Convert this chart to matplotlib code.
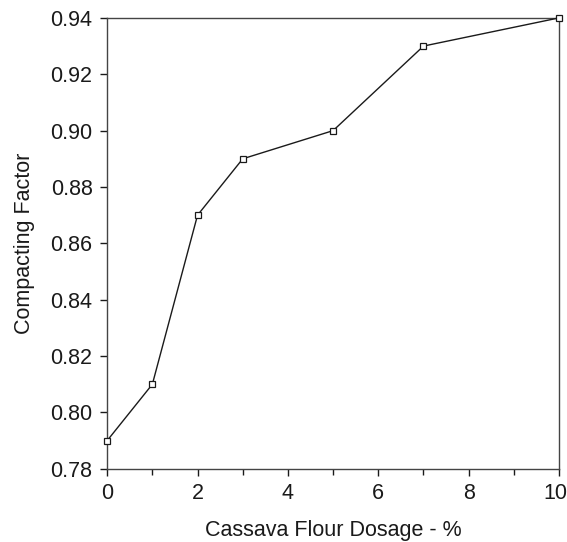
import matplotlib.pyplot as plt
from matplotlib.ticker import MultipleLocator
from matplotlib.transforms import ScaledTranslation

plt.rcParams['font.family'] = ['Liberation Sans', 'DejaVu Sans']

# Compacting factor vs cassava flour dosage
dosage = [0, 1, 2, 3, 5, 7, 10]
compacting = [0.79, 0.81, 0.87, 0.89, 0.90, 0.93, 0.94]
x_ticks = [0, 2, 4, 6, 8, 10]

fig = plt.figure(figsize=(5.67, 5.42), dpi=100)
ax = fig.add_axes([0.189, 0.135, 0.797, 0.832])

ax.plot(dosage, compacting, color='#1a1a1a', lw=1.0, marker='s', ms=4,
        mfc='white', mec='#1a1a1a', mew=0.9, clip_on=False, zorder=3)

ax.set_xlim(0, 10)
ax.set_ylim(0.78, 0.94)
ax.set_xticks(x_ticks)
ax.xaxis.set_minor_locator(MultipleLocator(1))
ax.yaxis.set_major_locator(MultipleLocator(0.02))
ax.yaxis.set_major_formatter(plt.FormatStrFormatter('%.2f'))

ax.tick_params(axis='both', which='major', direction='out', length=5, width=1,
               labelsize=15.5, colors='#1a1a1a')
ax.tick_params(axis='x', which='minor', direction='out', length=4, width=1, colors='#1a1a1a')
ax.tick_params(axis='x', pad=5)
ax.tick_params(axis='y', pad=5.5)

for s in ax.spines.values():
    s.set_color('#444444')
    s.set_linewidth(1.0)

ax.set_xlabel('Cassava Flour Dosage - %', fontsize=15.5, labelpad=12, color='#1a1a1a')
ax.set_ylabel('Compacting Factor', fontsize=15.5, labelpad=11, color='#1a1a1a')

# the last x label sits just inside the right edge
last = ax.xaxis.get_major_ticks()[-1].label1
last.set_ha('right')
last.set_transform(last.get_transform() + ScaledTranslation(6 / 72, 0, fig.dpi_scale_trans))

fig.savefig('out.png', dpi=100)
